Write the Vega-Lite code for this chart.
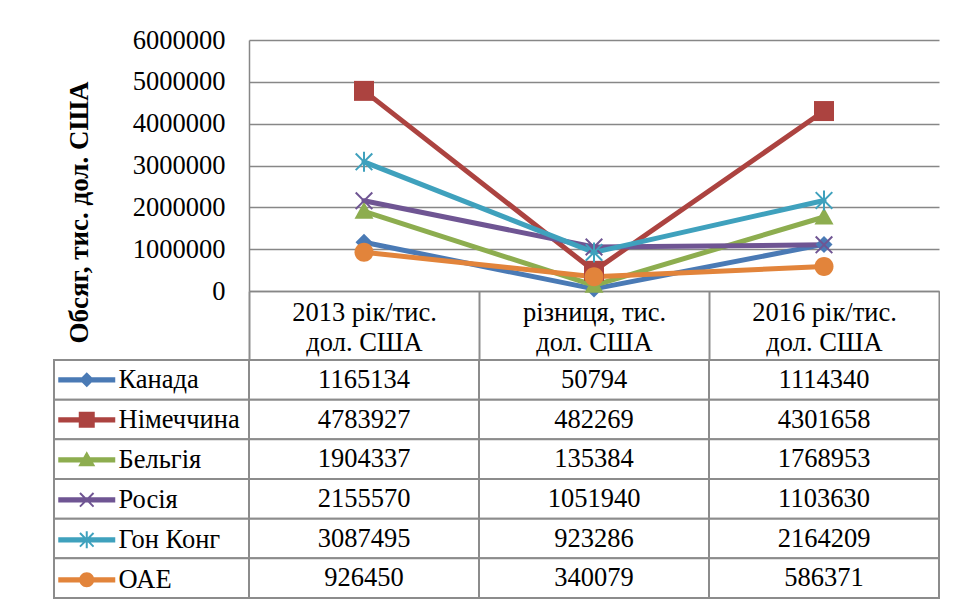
{
  "$schema": "https://vega.github.io/schema/vega-lite/v6.json",
  "background": "white",
  "padding": {"left": 53, "top": 27, "right": 0, "bottom": 0},
  "config": {"view": {"stroke": null}, "font": "Liberation Serif"},
  "datasets": {
    "rows": [
      {"country": "Канада", "period": "2013 рік/тис.\nдол. США", "value": 1165134},
      {"country": "Канада", "period": "різниця, тис.\nдол. США", "value": 50794},
      {"country": "Канада", "period": "2016 рік/тис.\nдол. США", "value": 1114340},
      {"country": "Німеччина", "period": "2013 рік/тис.\nдол. США", "value": 4783927},
      {"country": "Німеччина", "period": "різниця, тис.\nдол. США", "value": 482269},
      {"country": "Німеччина", "period": "2016 рік/тис.\nдол. США", "value": 4301658},
      {"country": "Бельгія", "period": "2013 рік/тис.\nдол. США", "value": 1904337},
      {"country": "Бельгія", "period": "різниця, тис.\nдол. США", "value": 135384},
      {"country": "Бельгія", "period": "2016 рік/тис.\nдол. США", "value": 1768953},
      {"country": "Росія", "period": "2013 рік/тис.\nдол. США", "value": 2155570},
      {"country": "Росія", "period": "різниця, тис.\nдол. США", "value": 1051940},
      {"country": "Росія", "period": "2016 рік/тис.\nдол. США", "value": 1103630},
      {"country": "Гон Конг", "period": "2013 рік/тис.\nдол. США", "value": 3087495},
      {"country": "Гон Конг", "period": "різниця, тис.\nдол. США", "value": 923286},
      {"country": "Гон Конг", "period": "2016 рік/тис.\nдол. США", "value": 2164209},
      {"country": "ОАЕ", "period": "2013 рік/тис.\nдол. США", "value": 926450},
      {"country": "ОАЕ", "period": "різниця, тис.\nдол. США", "value": 340079},
      {"country": "ОАЕ", "period": "2016 рік/тис.\nдол. США", "value": 586371}
    ]
  },
  "data": {"name": "rows"},
  "columns": 2,
  "bounds": "flush",
  "align": "each",
  "spacing": {"row": 69, "column": 0},
  "resolve": {"scale": {"color": "independent", "shape": "independent", "x": "independent", "y": "independent"}},
  "concat": [
    {
      "width": 195,
      "height": 251,
      "data": {"values": []},
      "mark": "point"
    },
    {
      "width": 690,
      "height": 251,
      "encoding": {
        "x": {
          "field": "period",
          "type": "nominal",
          "sort": ["2013 рік/тис.\nдол. США", "різниця, тис.\nдол. США", "2016 рік/тис.\nдол. США"],
          "scale": {"type": "band", "paddingInner": 0, "paddingOuter": 0},
          "axis": {
            "title": null,
            "labelExpr": "split(datum.label, '\\n')",
            "labelAngle": 0,
            "labelFont": "Liberation Serif",
            "labelFontSize": 26.5,
            "labelColor": "black",
            "labelLineHeight": 30,
            "labelBaseline": "top",
            "labelPadding": -61,
            "tickBand": "extent",
            "tickExtra": true,
            "tickSize": 69,
            "tickColor": "#8c8c8c",
            "tickWidth": 2,
            "domainColor": "#878787",
            "domainWidth": 1.5,
            "grid": false
          }
        },
        "y": {
          "field": "value",
          "type": "quantitative",
          "scale": {"domain": [0, 6000000], "nice": false},
          "axis": {
            "values": [0, 1000000, 2000000, 3000000, 4000000, 5000000, 6000000],
            "format": "d",
            "grid": true,
            "gridColor": "#878787",
            "gridWidth": 1.5,
            "domainColor": "#878787",
            "domainWidth": 1.5,
            "ticks": false,
            "labelPadding": 24,
            "labelFont": "Liberation Serif",
            "labelFontSize": 26.5,
            "labelColor": "black",
            "title": "Обсяг, тис. дол. США",
            "titleFont": "Liberation Serif",
            "titleFontSize": 27,
            "titleFontWeight": "bold",
            "titleColor": "black",
            "titleAngle": 270,
            "titleAlign": "center",
            "titleBaseline": "middle",
            "titleX": -170,
            "titleY": 172
          }
        },
        "color": {
          "field": "country",
          "type": "nominal",
          "scale": {
            "domain": ["Канада", "Німеччина", "Бельгія", "Росія", "Гон Конг", "ОАЕ"],
            "range": ["#4a7ab5", "#ac4340", "#8dad4f", "#6f5593", "#3fa1bd", "#e2843b"]
          },
          "legend": null
        }
      },
      "layer": [
        {
          "mark": {"type": "line", "strokeWidth": 5, "strokeJoin": "round", "strokeCap": "round"}
        },
        {
          "mark": {"type": "point", "filled": true, "size": 400, "opacity": 1, "strokeWidth": 0},
          "encoding": {
            "shape": {
              "field": "country",
              "type": "nominal",
              "scale": {
                "domain": ["Канада", "Німеччина", "Бельгія", "Росія", "Гон Конг", "ОАЕ"],
                "range": [
                  "M0,-0.85L-0.85,0L0,0.85L0.85,0Z",
                  "M-1,-1L-1,1L1,1L1,-1Z",
                  "M0,-0.95L-0.95,0.75L0.95,0.75Z",
                  "M-0.9,-0.76L0.76,0.9L0.9,0.76L-0.76,-0.9ZM0.9,-0.76L0.76,-0.9L-0.9,0.76L-0.76,0.9Z",
                  "M-0.9,-0.76L0.76,0.9L0.9,0.76L-0.76,-0.9ZM0.9,-0.76L0.76,-0.9L-0.9,0.76L-0.76,0.9ZM-0.1,-1L-0.1,1L0.1,1L0.1,-1Z",
                  "M-0.95,0A0.95,0.95,0,0,0,0.95,0A0.95,0.95,0,0,0,-0.95,0Z"
                ]
              },
              "legend": null
            }
          }
        }
      ]
    },
    {
      "width": 195,
      "height": 238,
      "transform": [{"aggregate": [{"op": "count", "as": "n"}], "groupby": ["country"]}],
      "encoding": {
        "y": {
          "field": "country",
          "type": "nominal",
          "sort": ["Канада", "Німеччина", "Бельгія", "Росія", "Гон Конг", "ОАЕ"],
          "scale": {"type": "band", "paddingInner": 0, "paddingOuter": 0},
          "axis": null
        }
      },
      "layer": [
        {
          "mark": {"type": "rect", "fill": "white", "stroke": "#8c8c8c", "strokeWidth": 2}
        },
        {
          "mark": {"type": "point", "filled": true, "opacity": 0},
          "encoding": {
            "color": {
              "field": "country",
              "type": "nominal",
              "scale": {
                "domain": ["Канада", "Німеччина", "Бельгія", "Росія", "Гон Конг", "ОАЕ"],
                "range": ["#4a7ab5", "#ac4340", "#8dad4f", "#6f5593", "#3fa1bd", "#e2843b"]
              },
              "legend": {
                "title": null, "orient": "none", "legendX": 1, "legendY": 0, "padding": 0,
                "symbolSize": 400, "symbolOpacity": 1, "symbolStrokeWidth": 0,
                "labelFont": "Liberation Serif", "labelFontSize": 26.5, "labelColor": "black",
                "labelOffset": 37, "rowPadding": 0, "clipHeight": 39.67, "labelLimit": 0
              }
            },
            "shape": {
              "field": "country",
              "type": "nominal",
              "scale": {
                "domain": ["Канада", "Німеччина", "Бельгія", "Росія", "Гон Конг", "ОАЕ"],
                "range": [
                  "M-1,-0.27L-1,0.27L4.7,0.27L4.7,-0.27ZM1.85,-0.75L1.1,0L1.85,0.75L2.6,0Z",
                  "M-1,-0.27L-1,0.27L4.7,0.27L4.7,-0.27ZM1.05,-0.8L1.05,0.8L2.65,0.8L2.65,-0.8Z",
                  "M-1,-0.27L-1,0.27L4.7,0.27L4.7,-0.27ZM1.85,-0.85L1,0.65L2.7,0.65Z",
                  "M-1,-0.27L-1,0.27L4.7,0.27L4.7,-0.27ZM1.1,-0.61L2.46,0.75L2.6,0.61L1.24,-0.75ZM2.6,-0.61L2.46,-0.75L1.1,0.61L1.24,0.75Z",
                  "M-1,-0.27L-1,0.27L4.7,0.27L4.7,-0.27ZM1.1,-0.61L2.46,0.75L2.6,0.61L1.24,-0.75ZM2.6,-0.61L2.46,-0.75L1.1,0.61L1.24,0.75ZM1.75,-0.85L1.75,0.85L1.95,0.85L1.95,-0.85Z",
                  "M-1,-0.27L-1,0.27L4.7,0.27L4.7,-0.27ZM1.1,0A0.75,0.75,0,0,0,2.6,0A0.75,0.75,0,0,0,1.1,0Z"
                ]
              },
              "legend": {
                "title": null, "orient": "none", "legendX": 1, "legendY": 0, "padding": 0,
                "symbolSize": 400, "symbolOpacity": 1, "symbolStrokeWidth": 0,
                "labelFont": "Liberation Serif", "labelFontSize": 26.5, "labelColor": "black",
                "labelOffset": 37, "rowPadding": 0, "clipHeight": 39.67, "labelLimit": 0
              }
            }
          }
        }
      ]
    },
    {
      "width": 690,
      "height": 238,
      "encoding": {
        "x": {
          "field": "period",
          "type": "nominal",
          "sort": ["2013 рік/тис.\nдол. США", "різниця, тис.\nдол. США", "2016 рік/тис.\nдол. США"],
          "scale": {"type": "band", "paddingInner": 0, "paddingOuter": 0},
          "axis": null
        },
        "y": {
          "field": "country",
          "type": "nominal",
          "sort": ["Канада", "Німеччина", "Бельгія", "Росія", "Гон Конг", "ОАЕ"],
          "scale": {"type": "band", "paddingInner": 0, "paddingOuter": 0},
          "axis": null
        }
      },
      "layer": [
        {
          "mark": {"type": "rect", "fill": "white", "stroke": "#8c8c8c", "strokeWidth": 2}
        },
        {
          "mark": {"type": "text", "font": "Liberation Serif", "fontSize": 26.5, "color": "black"},
          "encoding": {"text": {"field": "value", "type": "quantitative", "format": "d"}}
        }
      ]
    }
  ]
}
